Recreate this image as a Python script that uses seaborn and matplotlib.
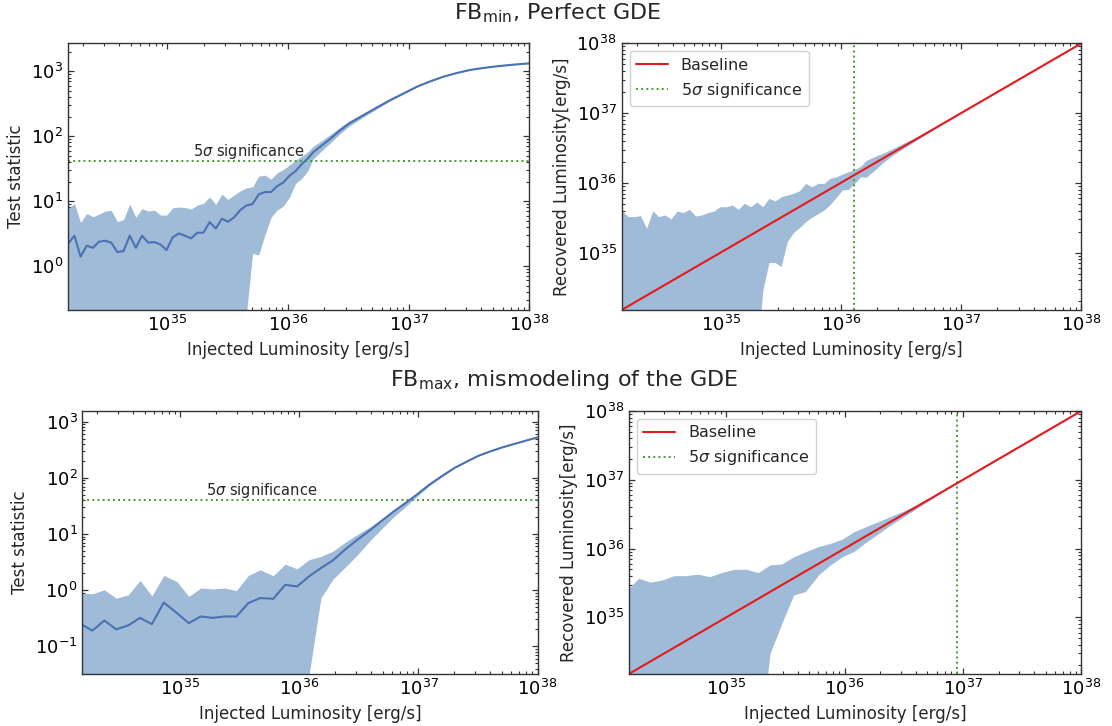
import numpy as np
import pandas as pd
import matplotlib
matplotlib.use("Agg")
import matplotlib.pyplot as plt
import seaborn as sns

# ------------------------------------------------------------------ data
# Top row: FB_min, perfect GDE.  Injected luminosity grid (log10 erg/s)
LOGL_TOP = [34.180, 34.231, 34.282, 34.333, 34.384, 34.435, 34.485, 34.536,
            34.587, 34.638, 34.689, 34.740, 34.791, 34.842, 34.893, 34.944,
            34.994, 35.045, 35.096, 35.147, 35.198, 35.249, 35.300, 35.351,
            35.402, 35.453, 35.503, 35.554, 35.605, 35.656, 35.707, 35.758,
            35.809, 35.860, 35.911, 35.962, 36.012, 36.063, 36.114, 36.165,
            36.21, 36.28, 36.35, 36.43, 36.51, 36.62, 36.74, 36.85, 36.96,
            37.07, 37.18, 37.29, 37.40, 37.51, 37.62, 37.73, 37.86, 38.00]

# Test statistic: median, upper and lower envelope
TS_TOP_MED = [2.23, 2.93, 1.39, 2.06, 1.91, 2.37, 2.45, 2.29, 1.64, 1.70,
              2.93, 1.91, 2.93, 2.29, 2.34, 2.15, 1.76, 2.76, 3.18, 2.93,
              2.67, 3.26, 3.26, 4.75, 3.79, 5.35, 4.81, 5.61, 7.27, 8.57,
              9.0, 12.7, 13.8, 13.8, 17.0, 19.4, 24.5, 28.9, 37.1, 45.3,
              56.8, 71.8, 91.0, 122, 158, 208, 279, 362, 458,
              581, 701, 828, 942, 1050, 1127, 1194, 1262, 1327]
TS_TOP_HI = [7.71, 9.2, 4.7, 6.45, 5.74, 6.31, 7.02, 7.18, 4.81, 5.22,
             8.99, 5.61, 7.71, 7.02, 7.27, 6.09, 6.09, 7.89, 8.09, 8.0,
             7.54, 8.67, 9.2, 11.6, 8.89, 12.8, 10.6, 12.4, 14.4, 16.0,
             16.6, 24.2, 25.1, 21.8, 27.3, 30.7, 35.8, 42.7, 49.2, 57.3,
             70, 85.3, 105.7, 136.9, 173.2, 223, 292, 373, 469,
             590, 709, 836, 951, 1060, 1137, 1205, 1274, 1339]
TS_TOP_LO = [0.001, 0.001, 0.001, 0.001, 0.001, 0.001, 0.001, 0.001, 0.001, 0.001,
             0.001, 0.001, 0.001, 0.001, 0.001, 0.001, 0.001, 0.001, 0.001, 0.001,
             0.001, 0.001, 0.001, 0.001, 0.001, 0.001, 0.001, 0.001, 0.01, 0.18,
             1.57, 1.48, 3.0, 5.61, 7.27, 8.4, 11.4, 18.7, 22.3, 29.2,
             45, 59.7, 78.4, 108.7, 144.2, 194, 266, 351, 448,
             572, 693, 821, 934, 1041, 1117, 1183, 1251, 1315]

# Recovered luminosity envelope (units of 1e35 erg/s)
REC_TOP_HI = [3.98, 3.27, 3.27, 3.38, 2.23, 3.98, 3.27, 3.46, 3.03, 3.94,
              3.73, 4.17, 3.34, 3.46, 3.73, 3.94, 4.54, 4.54, 4.8, 4.17,
              5.08, 4.54, 5.3, 4.54, 5.98, 5.48, 6.31, 6.67, 7.06, 7.69,
              9.8, 8.77, 9.8, 9.8, 11.6, 12.2, 13.3, 14.4, 15.5, 17.3,
              20.9, 23.7, 26.6, 30.9, 36.1, 44.7, 56.5, 71.6, 91.8,
              118.3, 152.4, 195.9, 252.3, 325.1, 418.8, 539.5, 727.8, 1004.6]
REC_TOP_LO = [0.001, 0.001, 0.001, 0.001, 0.001, 0.001, 0.001, 0.001, 0.001, 0.001,
              0.001, 0.001, 0.001, 0.001, 0.001, 0.001, 0.001, 0.001, 0.001, 0.001,
              0.001, 0.001, 0.03, 0.293, 0.72, 0.72, 0.63, 1.44, 1.93, 2.28,
              2.77, 3.2, 3.6, 4.07, 4.9, 6.2, 7.9, 8.06, 9.8, 12.2,
              12.0, 15.1, 19.5, 24.8, 30.2, 39.8, 53.5, 70.0, 90.6,
              116.7, 150.3, 194.1, 250.0, 322.2, 415.0, 534.6, 721.1, 995.4]

# Bottom row: FB_max, mismodeling of the GDE
LOGL_BOT = [34.16, 34.26, 34.36, 34.46, 34.56, 34.66, 34.76, 34.86, 34.97,
            35.07, 35.17, 35.27, 35.37, 35.47, 35.57, 35.67, 35.78, 35.88,
            35.98, 36.08, 36.18, 36.28, 36.38, 36.49, 36.59, 36.69, 36.79,
            36.89, 36.99, 37.09, 37.19, 37.30, 37.40, 37.50, 37.60, 37.70,
            37.80, 37.90, 38.00]
TS_BOT_MED = [0.25, 0.19, 0.287, 0.20, 0.234, 0.32, 0.248, 0.60, 0.39,
              0.258, 0.339, 0.32, 0.339, 0.339, 0.586, 0.72, 0.70, 1.24,
              1.16, 1.75, 2.47, 3.37, 5.2, 8.0, 11.5, 17.1, 25.0,
              35.4, 51, 75, 105, 149, 192, 245, 294, 346,
              399, 458, 525]
TS_BOT_HI = [0.88, 0.86, 1.01, 0.72, 0.82, 1.48, 0.79, 1.82, 1.42,
             0.77, 1.09, 1.05, 1.09, 0.98, 1.82, 2.3, 1.80, 2.9,
             2.4, 3.47, 4.0, 4.9, 7.0, 9.9, 13.2, 18.5, 27.0,
             38.0, 53.5, 77.5, 107.5, 151, 194, 247, 296, 348,
             401, 460, 527]
TS_BOT_LO = [0.001, 0.001, 0.001, 0.001, 0.001, 0.001, 0.001, 0.001, 0.001,
             0.001, 0.001, 0.001, 0.001, 0.001, 0.001, 0.001, 0.001, 0.001,
             0.001, 0.03, 0.72, 1.55, 2.5, 4.3, 7.5, 12.3, 20.0,
             30.5, 47, 72, 102, 147, 190, 243, 292, 344,
             397, 456, 523]
REC_BOT_HI = [2.5, 3.7, 3.24, 3.5, 4.04, 4.04, 4.24, 3.91, 4.53,
              5.0, 5.0, 4.47, 5.78, 5.98, 7.6, 9.0, 10.7, 11.9,
              13.7, 17.6, 20.8, 24.5, 28.8, 34.7, 41.7, 51.3, 63.1,
              78.5, 98.3, 124.3, 155.7, 200.5, 252.3, 317.7, 400.0, 504.0,
              633.6, 797.7, 1014.0]
REC_BOT_LO = [0.001, 0.001, 0.001, 0.001, 0.001, 0.001, 0.001, 0.001, 0.001,
              0.001, 0.001, 0.01, 0.3, 0.82, 2.12, 2.37, 4.14, 5.78,
              7.6, 9.1, 12.3, 16.2, 21.4, 28.2, 36.3, 46.8, 60.3,
              76.7, 96.8, 122.4, 153.3, 197.0, 248.0, 312.8, 394.0, 496.0,
              624.0, 786.0, 998.0]

TS_5SIGMA = 41.0          # test-statistic threshold
L5SIG_TOP = 1.29e36       # luminosity at 5 sigma, top row
L5SIG_BOT = 8.9e36        # luminosity at 5 sigma, bottom row
XLIM = (1.5e34, 1e38)
TS_YLIM_TOP = (0.21, 2700)
TS_YLIM_BOT = (0.032, 1550)

TITLE_TOP = r"FB$_{\rm min}$, Perfect GDE"
TITLE_BOT = r"FB$_{\rm max}$, mismodeling of the GDE"

# ------------------------------------------------------------------ style
sns.set_theme(style="ticks", rc={
    "axes.edgecolor": "#333333", "axes.linewidth": 1.0,
    "xtick.direction": "in", "ytick.direction": "in",
    "xtick.top": True, "ytick.right": True,
    "xtick.major.size": 4.5, "ytick.major.size": 4.5,
    "xtick.minor.size": 2.4, "ytick.minor.size": 2.4,
    "xtick.major.width": 0.9, "ytick.major.width": 0.9,
    "xtick.minor.width": 0.8, "ytick.minor.width": 0.8,
    "xtick.color": "#333333", "ytick.color": "#333333",
    "xtick.labelcolor": "black", "ytick.labelcolor": "black",
    "xtick.labelsize": 13, "ytick.labelsize": 13,
    "axes.labelsize": 12, "legend.fontsize": 11.5,
})
plt.rcParams["font.family"] = ["DejaVu Sans"]

LINE_C = "#4a72b2"
FILL_C = "#9fbbd8"
RED_C = "#e41a1c"
GREEN_C = "#4a9a30"

W, H = 1112, 726
fig = plt.figure(figsize=(W / 100, H / 100), dpi=100)


def box(l, t, r, b):
    return [l / W, 1 - b / H, (r - l) / W, (b - t) / H]


ax_tl = fig.add_axes(box(67.8, 43.3, 529.3, 310))
ax_tr = fig.add_axes(box(621.6, 43.3, 1081.4, 310))
ax_bl = fig.add_axes(box(82.4, 411, 537.5, 674))
ax_br = fig.add_axes(box(628.8, 411, 1081.2, 674))


def ts_panel(ax, logl, med, hi, lo, ylim):
    L = 10 ** np.asarray(logl)
    ax.set_xscale("log")
    ax.set_yscale("log")
    ax.fill_between(L, lo, hi, color=FILL_C, lw=0, zorder=1)
    df = pd.DataFrame({"L": L, "TS": med})
    sns.lineplot(data=df, x="L", y="TS", ax=ax, color=LINE_C, lw=1.5,
                 zorder=3, legend=False)
    ax.axhline(TS_5SIGMA, color=GREEN_C, ls=":", lw=1.4, zorder=2)
    ax.text(1.64e35, TS_5SIGMA, r"5$\sigma$ significance", fontsize=10.5,
            va="bottom", ha="left", zorder=4)
    ax.set_xlim(*XLIM)
    ax.set_ylim(*ylim)
    ax.set_xlabel("Injected Luminosity [erg/s]")
    ax.set_ylabel("Test statistic")


def rec_panel(ax, logl, hi, lo, lsig):
    L = 10 ** np.asarray(logl)
    ax.set_xscale("log")
    ax.set_yscale("log")
    ax.fill_between(L, np.asarray(lo) * 1e35, np.asarray(hi) * 1e35,
                    color=FILL_C, lw=0, zorder=1)
    df = pd.DataFrame({"L": L, "R": L})
    sns.lineplot(data=df, x="L", y="R", ax=ax, color=RED_C, lw=1.5,
                 zorder=3, label="Baseline")
    ax.axvline(lsig, color=GREEN_C, ls=":", lw=1.4, zorder=2,
               label=r"5$\sigma$ significance")
    ax.set_xlim(*XLIM)
    ax.set_ylim(*XLIM)
    ax.set_xlabel("Injected Luminosity [erg/s]")
    ax.set_ylabel("Recovered Luminosity[erg/s]")
    ax.legend(loc="upper left", frameon=True, fancybox=True,
              edgecolor="#cccccc", framealpha=0.9)


ts_panel(ax_tl, LOGL_TOP, TS_TOP_MED, TS_TOP_HI, TS_TOP_LO, TS_YLIM_TOP)
rec_panel(ax_tr, LOGL_TOP, REC_TOP_HI, REC_TOP_LO, L5SIG_TOP)
ts_panel(ax_bl, LOGL_BOT, TS_BOT_MED, TS_BOT_HI, TS_BOT_LO, TS_YLIM_BOT)
rec_panel(ax_br, LOGL_BOT, REC_BOT_HI, REC_BOT_LO, L5SIG_BOT)

for ax in (ax_tl, ax_tr, ax_bl, ax_br):
    for s in ax.spines.values():
        s.set_visible(True)
        s.set_zorder(5)

fig.text(558 / W, 1 - 13 / H, TITLE_TOP, ha="center", va="center", fontsize=16)
fig.text(564 / W, 1 - 380 / H, TITLE_BOT, ha="center", va="center", fontsize=16)

fig.savefig("out.png", dpi=100)
